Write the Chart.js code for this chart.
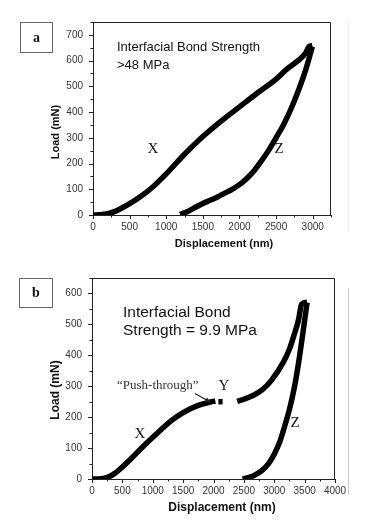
<!DOCTYPE html>
<html>
<head>
<meta charset="utf-8">
<script src="https://cdn.jsdelivr.net/npm/chart.js@4.4.1/dist/chart.umd.min.js"></script>
<style>
  html, body { margin: 0; padding: 0; background: #fff; }
  #wrap { position: relative; width: 365px; height: 523px; overflow: hidden; background: #fff; }
  canvas { position: absolute; left: 0; }
  .txt { position: absolute; white-space: nowrap; line-height: 1; color: #111; }
  .sans { font-family: "Liberation Sans", Arial, sans-serif; }
  .serif { font-family: "Liberation Serif", "Times New Roman", serif; }
  .mid { transform: translate(-50%, -50%); }
  .box { position: absolute; border: 1.5px solid #666; box-sizing: border-box;
         font-family: "Liberation Serif", serif; font-weight: bold; font-size: 14px;
         display: flex; align-items: center; justify-content: center; color: #111; }
  .ytitle { transform: translate(-50%, -50%) rotate(-90deg); font-weight: bold; }
  .xtitle { transform: translate(-50%, -50%); font-weight: bold; }
</style>
</head>
<body>
<div id="wrap">
  <canvas id="chartA" width="365" height="255" style="top:0"></canvas>
  <canvas id="chartB" width="365" height="263" style="top:260px"></canvas>

  <!-- panel a -->
  <div class="box" style="left:20px;top:22px;width:33px;height:31px">a</div>
  <div class="txt sans" style="left:117px;top:38px;font-size:13px;line-height:18.3px">Interfacial Bond Strength<br>&gt;48 MPa</div>
  <div class="txt serif mid" style="left:153px;top:148px;font-size:15px">X</div>
  <div class="txt serif mid" style="left:279px;top:148px;font-size:15px">Z</div>
  <div class="txt sans ytitle" style="left:55px;top:132px;font-size:11px">Load (mN)</div>
  <div class="txt sans xtitle" style="left:224px;top:243px;font-size:11px">Displacement (nm)</div>
  <div style="position:absolute;left:348px;top:20px;width:1px;height:212px;background:#eee"></div>

  <!-- panel b -->
  <div class="box" style="left:19px;top:278px;width:34px;height:30px">b</div>
  <div class="txt sans" style="left:123px;top:302.7px;font-size:15.5px;line-height:18.4px">Interfacial Bond<br>Strength = 9.9 MPa</div>
  <div class="txt serif" style="left:117px;top:378px;font-size:13px;color:#333">“Push-through”</div>
  <div class="txt serif mid" style="left:140px;top:433px;font-size:15px">X</div>
  <div class="txt serif mid" style="left:224px;top:385px;font-size:15px">Y</div>
  <div class="txt serif mid" style="left:295px;top:422px;font-size:15px">Z</div>
  <div class="txt sans ytitle" style="left:55px;top:390px;font-size:12px">Load (mN)</div>
  <div class="txt sans xtitle" style="left:222px;top:507px;font-size:12px">Displacement (nm)</div>
  <div style="position:absolute;left:348px;top:288px;width:1px;height:207px;background:#ccc"></div>

  <svg width="365" height="523" style="position:absolute;left:0;top:0;pointer-events:none">
    <line x1="195" y1="393.5" x2="206" y2="399.8" stroke="#222" stroke-width="1.2"/>
    <polygon points="211,402.6 204.6,401.8 207,397.4" fill="#222"/>
  </svg>
</div>

<script>
// --- panel a: interfacial bond strength > 48 MPa ---
const dispA_X = [0, 100, 200, 300, 400, 500, 650, 800, 1000, 1250, 1500, 1750, 2000, 2250, 2500, 2650, 2800, 2900, 2950, 2995];
const loadA_X = [0, 1, 5, 14, 28, 44, 72, 105, 160, 236, 305, 365, 420, 475, 528, 568, 600, 628, 655, 658];
const dispA_Z = [1190, 1300, 1400, 1500, 1600, 1700, 1800, 1900, 2000, 2100, 2200, 2300, 2400, 2500, 2600, 2700, 2800, 2900, 2950, 2995];
const loadA_Z = [2, 15, 30, 45, 57, 70, 85, 100, 118, 142, 172, 210, 252, 300, 350, 410, 480, 560, 608, 655];

const xTicksA = [0, 500, 1000, 1500, 2000, 2500, 3000];
const yTicksA = [0, 100, 200, 300, 400, 500, 600, 700];
const xMaxA = 3250;
const yMaxA = 750;

// --- panel b: interfacial bond strength = 9.9 MPa ---
const dispB_X = [0, 150, 250, 350, 450, 650, 850, 1100, 1300, 1500, 1750, 1950, 2030];
const loadB_X = [0, 1, 5, 15, 30, 67, 107, 153, 188, 215, 238, 249, 252];
const dispB_P = [2080, 2150];
const loadB_P = [250, 250];
const dispB_Y = [2390, 2500, 2650, 2800, 2950, 3150, 3250, 3330, 3400, 3450, 3540];
const loadB_Y = [251, 258, 270, 288, 318, 378, 420, 468, 515, 565, 572];
const dispB_Z = [2480, 2600, 2700, 2800, 2900, 3000, 3100, 3170, 3250, 3330, 3400, 3470, 3540];
const loadB_Z = [0, 6, 15, 28, 48, 80, 125, 170, 225, 295, 375, 470, 570];

const xTicksB = [0, 500, 1000, 1500, 2000, 2500, 3000, 3500, 4000];
const yTicksB = [0, 100, 200, 300, 400, 500, 600];
const xMaxB = 4000;
const yMaxB = 650;

// top/right frame and major + minor tick marks
const frameTicks = {
  id: 'frameTicks',
  afterDraw(chart) {
    const { ctx, chartArea: a, scales: { x, y } } = chart;
    ctx.save();
    ctx.strokeStyle = '#222';
    ctx.lineWidth = 1;
    ctx.beginPath();
    ctx.moveTo(a.left, a.top + 0.5);
    ctx.lineTo(a.right - 0.5, a.top + 0.5);
    ctx.lineTo(a.right - 0.5, a.bottom);
    ctx.stroke();

    const xt = x.ticks.map(t => t.value);
    const yt = y.ticks.map(t => t.value);
    const xStep = xt[1] - xt[0];
    const yStep = yt[1] - yt[0];
    ctx.beginPath();
    xt.forEach(v => {
      [[v, 4], [v + xStep / 2, 2.5]].forEach(([val, len]) => {
        if (val > x.max) return;
        const px = Math.round(x.getPixelForValue(val)) + 0.5;
        ctx.moveTo(px, a.bottom);
        ctx.lineTo(px, a.bottom + len);
      });
    });
    yt.forEach(v => {
      [[v, 4], [v + yStep / 2, 2.5]].forEach(([val, len]) => {
        if (val > y.max) return;
        const py = Math.round(y.getPixelForValue(val)) + 0.5;
        ctx.moveTo(a.left, py);
        ctx.lineTo(a.left - len, py);
      });
    });
    ctx.stroke();
    ctx.restore();
  }
};

function curve(xs, ys) {
  return {
    data: xs.map((v, i) => ({ x: v, y: ys[i] })),
    showLine: true,
    borderColor: '#000',
    borderWidth: 5.5,
    pointRadius: 0,
    cubicInterpolationMode: 'monotone',
    borderCapStyle: 'butt',
    borderJoinStyle: 'round'
  };
}

function makeChart(id, datasets, xTicks, yTicks, xMax, yMax, pad, yWidth, xHeight) {
  const tickFont = { family: '"Liberation Sans", Arial, sans-serif', size: 10 };
  return new Chart(document.getElementById(id), {
    type: 'scatter',
    data: { datasets: datasets },
    options: {
      responsive: false,
      animation: false,
      devicePixelRatio: 1,
      layout: { padding: pad },
      plugins: { legend: { display: false }, tooltip: { enabled: false } },
      scales: {
        x: {
          type: 'linear', min: 0, max: xMax,
          grid: { display: false, drawTicks: false },
          border: { display: true, color: '#222', width: 1 },
          ticks: { color: '#333', font: tickFont, padding: 6, maxRotation: 0, callback: v => String(v) },
          afterBuildTicks: s => { s.ticks = xTicks.map(v => ({ value: v })); },
          afterFit: s => { s.height = xHeight; }
        },
        y: {
          type: 'linear', min: 0, max: yMax,
          grid: { display: false, drawTicks: false },
          border: { display: true, color: '#222', width: 1 },
          ticks: { color: '#333', font: tickFont, padding: 10, callback: v => String(v) },
          afterBuildTicks: s => { s.ticks = yTicks.map(v => ({ value: v })); },
          afterFit: s => { s.width = yWidth; }
        }
      }
    },
    plugins: [frameTicks]
  });
}

makeChart('chartA',
  [curve(dispA_X, loadA_X), curve(dispA_Z, loadA_Z)],
  xTicksA, yTicksA, xMaxA, yMaxA,
  { left: 0, right: 34, top: 22, bottom: 0 }, 93, 40);

makeChart('chartB',
  [curve(dispB_X, loadB_X), curve(dispB_P, loadB_P), curve(dispB_Y, loadB_Y), curve(dispB_Z, loadB_Z)],
  xTicksB, yTicksB, xMaxB, yMaxB,
  { left: 0, right: 30, top: 18, bottom: 0 }, 92, 44);
</script>
</body>
</html>
